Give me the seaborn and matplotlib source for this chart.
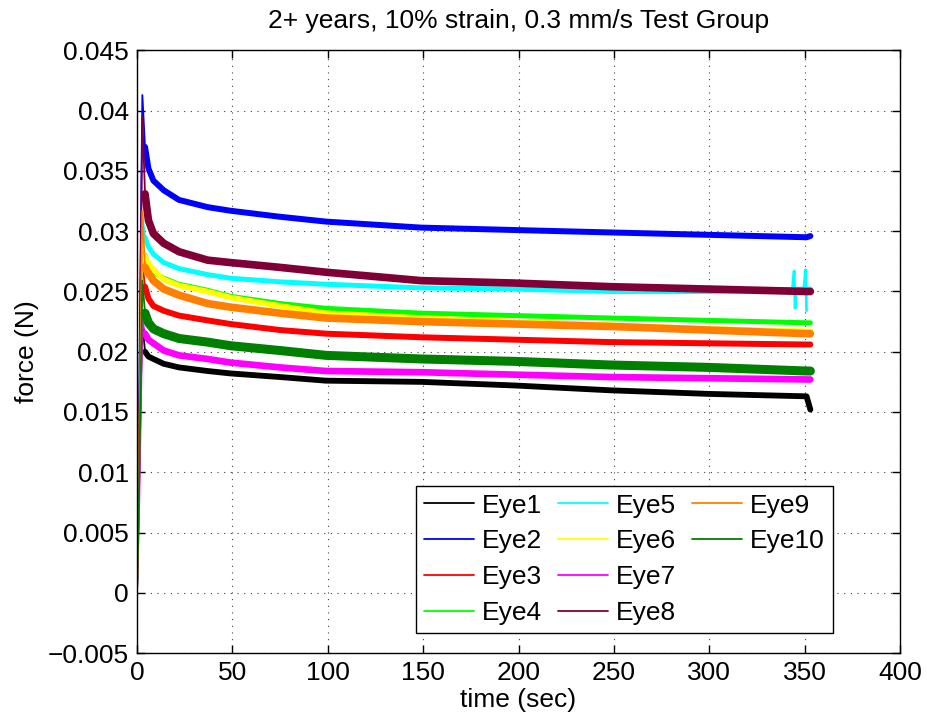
import numpy as np
import pandas as pd
import matplotlib
matplotlib.use("Agg")
import matplotlib.pyplot as plt
from matplotlib.lines import Line2D
from matplotlib.ticker import FuncFormatter, MultipleLocator
import seaborn as sns

# Sample times (sec)
time_sec = [0, 1, 2, 2.8, 4.2, 6, 8.6, 14, 22, 37, 49, 75, 99, 149, 198, 248, 300, 351, 353]

# Force (N) per eye at the sample times
eye1 = [0, 0.008, 0.017, 0.0225, 0.0200, 0.0196, 0.0194, 0.0190, 0.0187, 0.0184, 0.0182, 0.0179,
        0.0176, 0.0175, 0.0172, 0.0168, 0.0165, 0.0163, 0.0152]
eye2 = [0, 0.013, 0.030, 0.0413, 0.0370, 0.0352, 0.0342, 0.0334, 0.0326, 0.0320, 0.0317, 0.0312,
        0.0308, 0.0303, 0.0301, 0.0299, 0.0297, 0.0295, 0.0296]
eye3 = [0, 0.009, 0.020, 0.0274, 0.0254, 0.0244, 0.0238, 0.0234, 0.0230, 0.0226, 0.0223, 0.0218,
        0.0215, 0.0212, 0.0210, 0.0208, 0.0207, 0.0206, 0.0206]
eye4 = [0, 0.010, 0.021, 0.0285, 0.0280, 0.0273, 0.0266, 0.0261, 0.0256, 0.0251, 0.0246, 0.0240,
        0.0236, 0.0232, 0.0230, 0.0228, 0.0226, 0.0224, 0.0224]
eye5 = [0, 0.009, 0.022, 0.0315, 0.0295, 0.0287, 0.0281, 0.0274, 0.0269, 0.0264, 0.0261, 0.0258,
        0.0256, 0.0253, 0.0252, 0.0250, 0.0250, 0.0252, 0.0252]
eye6 = [0, 0.010, 0.022, 0.0295, 0.0279, 0.0273, 0.0268, 0.0260, 0.0255, 0.0250, 0.0245, 0.0238,
        0.0232, 0.0228, 0.0225, 0.0222, 0.0219, 0.0217, 0.0217]
eye7 = [0, 0.006, 0.015, 0.0226, 0.0215, 0.0210, 0.0207, 0.0201, 0.0197, 0.0194, 0.0191, 0.0187,
        0.0184, 0.0183, 0.0181, 0.0179, 0.0178, 0.0177, 0.0177]
eye8 = [0, 0.012, 0.028, 0.0395, 0.0331, 0.0309, 0.0298, 0.0290, 0.0283, 0.0276, 0.0274, 0.0270,
        0.0266, 0.0259, 0.0257, 0.0254, 0.0252, 0.0250, 0.0250]
eye9 = [0, 0.010, 0.022, 0.0317, 0.0270, 0.0265, 0.0259, 0.0252, 0.0247, 0.0240, 0.0237, 0.0232,
        0.0228, 0.0225, 0.0223, 0.0221, 0.0218, 0.0215, 0.0215]
eye10 = [0, 0.008, 0.018, 0.0259, 0.0232, 0.0224, 0.0219, 0.0215, 0.0211, 0.0208, 0.0205, 0.0201,
         0.0197, 0.0194, 0.0192, 0.0189, 0.0187, 0.0184, 0.0184]

# short spikes on Eye5 near the end
eye5_spike_t = [343.5, 344.5, 345.0, 345.5, 349.5, 350.5, 351.0]
eye5_spike_f = [0.0251, 0.0267, 0.0236, 0.0251, 0.0251, 0.0268, 0.0234]

names = ["Eye1", "Eye2", "Eye3", "Eye4", "Eye5", "Eye6", "Eye7", "Eye8", "Eye9", "Eye10"]
series = [eye1, eye2, eye3, eye4, eye5, eye6, eye7, eye8, eye9, eye10]
colors = ["#000000", "#0000ff", "#ff0000", "#00ff00", "#00ffff",
          "#ffff00", "#ff00ff", "#7f0037", "#ff8000", "#007f00"]
# thickness of the noisy band of each trace
band_lw = [4.2, 4.3, 4.3, 3.6, 3.6, 4.0, 4.8, 5.5, 5.5, 6.5]

sns.set_style("ticks")
plt.rcParams["font.family"] = ["Liberation Sans", "DejaVu Sans"]
plt.rcParams["axes.unicode_minus"] = True
for key in ["text.color", "axes.labelcolor", "xtick.color", "ytick.color"]:
    plt.rcParams[key] = "black"

fig = plt.figure(figsize=(9.27, 7.21), dpi=100)
ax = fig.add_axes([0.1478, 0.0943, 0.9709 - 0.1478, 0.930 - 0.0943])

handles = []
for name, vals, col, lw in zip(names, series, colors, band_lw):
    df = pd.DataFrame({"time": time_sec, "force": vals})
    sns.lineplot(data=df, x="time", y="force", color=col, lw=1.3, ax=ax, legend=False)
    handles.append(ax.lines[-1])
    handles[-1].set_label(name)
    sns.lineplot(data=df.iloc[4:], x="time", y="force", color=col, lw=lw, ax=ax,
                 legend=False, solid_capstyle="round", solid_joinstyle="round")
    if name == "Eye5":
        sns.lineplot(x=eye5_spike_t, y=eye5_spike_f, color=col, lw=2.0, ax=ax,
                     legend=False, sort=False)

ax.set_xlim(0, 400)
ax.set_ylim(-0.005, 0.045)
ax.xaxis.set_major_locator(MultipleLocator(50))
ax.yaxis.set_major_locator(MultipleLocator(0.005))


def fmt(v, pos):
    s = "%g" % round(v, 4)
    return s.replace("-", "\u2212")


ax.yaxis.set_major_formatter(FuncFormatter(fmt))
ax.tick_params(direction="in", length=6, width=1, top=True, right=True,
               labelsize=19, pad=6, colors="black")
for sp in ax.spines.values():
    sp.set_linewidth(1.0)
    sp.set_color("black")

ax.grid(True, color="#404040", linestyle=(0, (1, 5)), linewidth=0.8)

ax.set_xlabel("time (sec)", fontsize=19, labelpad=2)
ax.set_ylabel("force (N)", fontsize=19, labelpad=6)
ax.set_title("2+ years, 10% strain, 0.3 mm/s Test Group", fontsize=19, pad=16)

# two empty slots so the columns fill 4, 4, 2 like the original
blank = [Line2D([], [], color="none", label=" ") for _ in range(2)]
leg = ax.legend(handles=handles + blank, ncol=3, loc="lower right",
                bbox_to_anchor=(0.912, 0.033), fontsize=19, frameon=True,
                fancybox=False, framealpha=1, edgecolor="black",
                handlelength=1.9, handletextpad=0.3, columnspacing=0.6,
                labelspacing=0.45, borderpad=0.3, borderaxespad=0)
leg.get_frame().set_linewidth(1.0)

fig.savefig("out.png", dpi=100)
